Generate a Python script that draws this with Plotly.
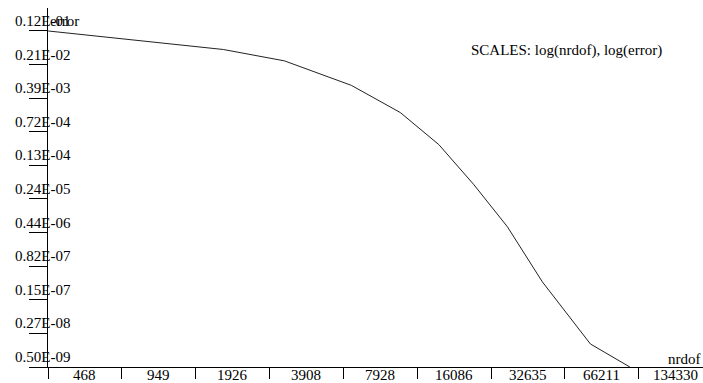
import numpy as np
import plotly.graph_objects as go

# Convergence history: number of degrees of freedom vs. error
nrdof = [329, 1763, 3162, 6009, 9610, 13900, 19440, 26790, 37460, 55520, 59350, 86620]
error = [1.17e-2, 4.59e-3, 2.59e-3, 7.51e-4, 1.90e-4, 3.76e-5, 4.97e-6,
         5.95e-7, 3.68e-8, 2.53e-9, 1.60e-9, 5.0e-10]

x_labels = [468, 949, 1926, 3908, 7928, 16086, 32635, 66211, 134330]
y_labels = ["0.12E-01", "0.21E-02", "0.39E-03", "0.72E-04", "0.13E-04", "0.24E-05",
            "0.44E-06", "0.82E-07", "0.15E-07", "0.27E-08", "0.50E-09"]

FONT = "Liberation Serif"
FS = 15
W, H = 703, 383
ML, MR, MT, MB = 48, 0, 8, 16

# x axis: labels sit at the centre of each log-spaced cell
lx = np.log10(x_labels)
x_step = (lx[-1] - lx[0]) / (len(lx) - 1)
x_lo = lx[0] - x_step / 2
x_hi = x_lo + 8.87 * x_step
x_bounds = [10 ** (x_lo + k * x_step) for k in range(len(x_labels))]

# y axis: ticks evenly spaced in log between the largest and smallest error
ly_max, ly_min = np.log10(max(error)), np.log10(min(error))
y_ticks_log = np.linspace(ly_max, ly_min, len(y_labels))
y_step = (ly_max - ly_min) / (len(y_labels) - 1)
y_lo = ly_min
y_hi = ly_max + 0.684 * y_step

fig = go.Figure()
fig.add_trace(go.Scatter(x=nrdof, y=error, mode="lines",
                         line=dict(color="#222222", width=1), hoverinfo="skip"))

txt_font = dict(family=FONT, size=FS, color="black")
annotations = []
for v, t in zip(lx, x_labels):
    annotations.append(dict(x=v, y=0, xref="x", yref="paper", text=str(t),
                            showarrow=False, xanchor="center", yanchor="top",
                            borderpad=0, yshift=1, font=txt_font))
plot_w = W - ML - MR
for v, t in zip(y_ticks_log, y_labels):
    annotations.append(dict(x=-35 / plot_w, y=v, xref="paper", yref="y", text=t,
                            showarrow=False, xanchor="left", yanchor="bottom",
                            font=txt_font))
annotations.append(dict(x=0, y=ly_max, xref="paper", yref="y", text="error",
                        showarrow=False, xanchor="left", yanchor="bottom",
                        font=txt_font))
annotations.append(dict(x=1, y=0, xref="paper", yref="paper", text="nrdof",
                        showarrow=False, xanchor="right", yanchor="bottom", yshift=-2,
                        font=txt_font))
annotations.append(dict(x=(469 - ML) / plot_w, y=1 - (50 - MT) / (H - MT - MB),
                        xref="paper", yref="paper",
                        text="SCALES: log(nrdof), log(error)",
                        showarrow=False, xanchor="left", yanchor="middle",
                        font=txt_font))

fig.update_layout(
    width=W, height=H,
    margin=dict(l=ML, r=MR, t=MT, b=MB, pad=0),
    paper_bgcolor="white", plot_bgcolor="white",
    showlegend=False,
    font=txt_font,
    xaxis=dict(type="log", range=[x_lo - 1e-6, x_hi], showgrid=False, zeroline=False,
               showline=True, linecolor="black", linewidth=1,
               tickmode="array", tickvals=x_bounds, ticktext=[""] * len(x_bounds),
               ticks="outside", ticklen=11, tickcolor="black", tickwidth=1),
    yaxis=dict(type="log", range=[y_lo, y_hi], showgrid=False, zeroline=False,
               showline=True, linecolor="black", linewidth=1,
               tickmode="array", tickvals=[10 ** v for v in y_ticks_log],
               showticklabels=False,
               ticks="outside", ticklen=18, tickcolor="black", tickwidth=1),
    annotations=annotations,
)

fig.write_html("out.html")
